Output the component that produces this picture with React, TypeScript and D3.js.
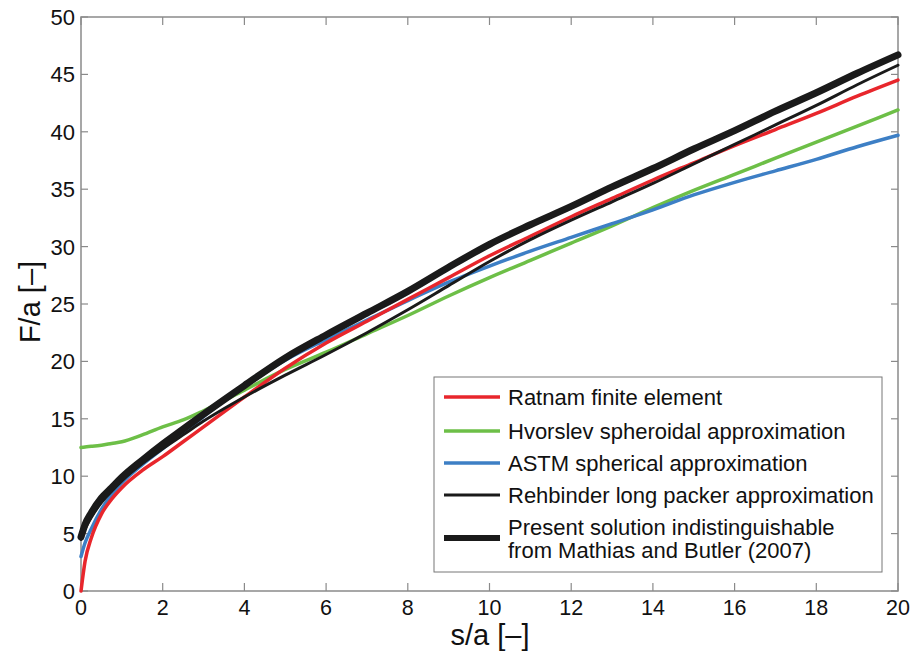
import React from "react";
import * as d3 from "d3";

const S = [0, 0.1, 0.25, 0.5, 0.75, 1, 1.5, 2, 2.5, 3, 4, 5, 6, 7, 8, 9, 10, 11, 12, 13, 14, 15, 16, 17, 18, 19, 20];

const ratnam = [0, 2.6, 4.6, 6.7, 8.0, 9.0, 10.5, 11.7, 13.0, 14.3, 16.9, 19.4, 21.6, 23.5, 25.4, 27.3, 29.2, 30.9, 32.6, 34.2, 35.8, 37.3, 38.8, 40.2, 41.6, 43.1, 44.5];
const astm = [3.0, 4.2, 5.4, 7.1, 8.4, 9.4, 11.0, 12.4, 13.8, 15.2, 17.8, 20.1, 21.9, 23.6, 25.3, 26.9, 28.3, 29.6, 30.8, 32.0, 33.2, 34.5, 35.6, 36.6, 37.6, 38.7, 39.7];
const hvorslev = [12.5, 12.55, 12.6, 12.7, 12.85, 13.0, 13.6, 14.3, 14.9, 15.7, 17.5, 19.3, 20.8, 22.4, 24.0, 25.7, 27.3, 28.8, 30.3, 31.8, 33.4, 34.9, 36.3, 37.7, 39.1, 40.5, 41.9];
const rehbinder = [4.5, 5.4, 6.4, 7.7, 8.7, 9.6, 11.1, 12.4, 13.6, 14.8, 16.9, 18.8, 20.6, 22.5, 24.5, 26.6, 28.7, 30.6, 32.3, 33.9, 35.5, 37.2, 38.9, 40.6, 42.3, 44.1, 45.8];
const present = [4.7, 5.8, 6.8, 8.1, 9.0, 9.9, 11.4, 12.8, 14.1, 15.4, 17.9, 20.3, 22.3, 24.2, 26.1, 28.2, 30.2, 31.9, 33.5, 35.2, 36.8, 38.5, 40.1, 41.8, 43.4, 45.1, 46.7];

const xTicks = [0, 2, 4, 6, 8, 10, 12, 14, 16, 18, 20];
const yTicks = [0, 5, 10, 15, 20, 25, 30, 35, 40, 45, 50];

const legendLabels = [
  ["Ratnam finite element"],
  ["Hvorslev spheroidal approximation"],
  ["ASTM spherical approximation"],
  ["Rehbinder long packer approximation"],
  ["Present solution indistinguishable", "from Mathias and Butler (2007)"],
];

const RED = "#e8262c";
const GREEN = "#6dbf47";
const BLUE = "#3d7fc5";
const BLACK = "#1a1a1a";

const series = [
  { values: hvorslev, color: GREEN, width: 3.5 },
  { values: astm, color: BLUE, width: 3.5 },
  { values: ratnam, color: RED, width: 3.5 },
  { values: rehbinder, color: BLACK, width: 3 },
  { values: present, color: BLACK, width: 7 },
];

const legendStyles = [
  { color: RED, width: 3.5 },
  { color: GREEN, width: 3.5 },
  { color: BLUE, width: 3.5 },
  { color: BLACK, width: 3 },
  { color: BLACK, width: 6 },
];

export default function App() {
  const W = 911, H = 652;
  const L = 81, R = 898, T = 17, B = 591;
  const x = d3.scaleLinear().domain([0, 20]).range([L, R]);
  const y = d3.scaleLinear().domain([0, 50]).range([B, T]);
  const font = "'Liberation Sans', Arial, Helvetica, sans-serif";
  const axisCol = "#8a8a8a";

  const line = (vals: number[]) =>
    d3.line<number>()
      .x((_, i) => x(S[i]))
      .y((v) => y(v))
      .curve(d3.curveMonotoneX)(vals) || "";

  const legX = 434, legY = 377, legW = 448, legH = 195;
  const rowY = [397, 431, 463, 495, 538];

  return (
    <svg width={W} height={H} style={{ position: "absolute", left: 0, top: 0, background: "#fff" }} fontFamily={font}>
      <rect x={0} y={0} width={W} height={H} fill="#fff" />
      <rect x={L} y={T} width={R - L} height={B - T} fill="none" stroke={axisCol} strokeWidth={1.5} />
      {xTicks.map((t) => (
        <g key={"x" + t}>
          <line x1={x(t)} x2={x(t)} y1={B} y2={B - 8} stroke={axisCol} strokeWidth={1.2} />
          <line x1={x(t)} x2={x(t)} y1={T} y2={T + 8} stroke={axisCol} strokeWidth={1.2} />
          <text x={x(t)} y={B + 24} textAnchor="middle" fontSize={21.5} fill="#111">{t}</text>
        </g>
      ))}
      {yTicks.map((t) => (
        <g key={"y" + t}>
          <line x1={L} x2={L + 7} y1={y(t)} y2={y(t)} stroke={axisCol} strokeWidth={1.2} />
          <line x1={R} x2={R - 7} y1={y(t)} y2={y(t)} stroke={axisCol} strokeWidth={1.2} />
          <text x={L - 6} y={y(t) + 8} textAnchor="end" fontSize={22} fill="#111">{t}</text>
        </g>
      ))}
      <text x={490} y={645} textAnchor="middle" fontSize={29} fill="#111">s/a [–]</text>
      <text transform="translate(40,302) rotate(-90)" textAnchor="middle" fontSize={29} fill="#111">F/a [–]</text>

      {series.map((s, i) => (
        <path key={i} d={line(s.values)} fill="none" stroke={s.color} strokeWidth={s.width} strokeLinejoin="round" strokeLinecap="round" />
      ))}

      <rect x={legX} y={legY} width={legW} height={legH} fill="#fff" stroke="#777" strokeWidth={1} />
      {legendLabels.map((lab, i) => (
        <g key={"l" + i}>
          <line x1={444} x2={500} y1={rowY[i]} y2={rowY[i]} stroke={legendStyles[i].color} strokeWidth={legendStyles[i].width} />
          {lab.length === 1 ? (
            <text x={508} y={rowY[i] + 8} fontSize={22} fill="#111">{lab[0]}</text>
          ) : (
            <>
              <text x={508} y={rowY[i] - 3} fontSize={22} fill="#111">{lab[0]}</text>
              <text x={508} y={rowY[i] + 20} fontSize={22} fill="#111">{lab[1]}</text>
            </>
          )}
        </g>
      ))}
    </svg>
  );
}
